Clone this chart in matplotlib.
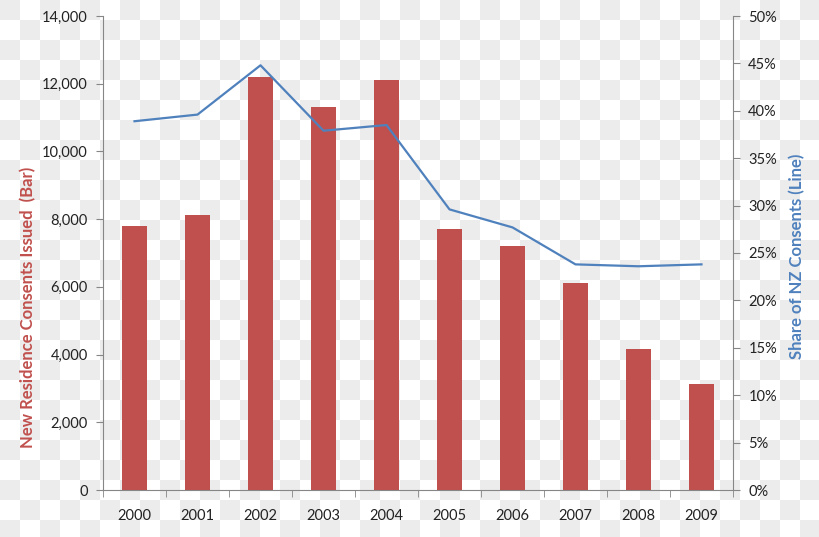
import numpy as np
import matplotlib
matplotlib.use("Agg")
import matplotlib.pyplot as plt
from matplotlib.ticker import FuncFormatter, FixedLocator

years = ["2000", "2001", "2002", "2003", "2004", "2005", "2006", "2007", "2008", "2009"]
consents = [7800, 8120, 12200, 11310, 12100, 7700, 7200, 6100, 4160, 3130]
share_pct = [38.9, 39.6, 44.8, 37.9, 38.5, 29.6, 27.7, 23.8, 23.6, 23.8]

plt.rcParams['font.family'] = ['Lato', 'DejaVu Sans']

W, H = 820, 537
fig = plt.figure(figsize=(W / 100, H / 100), dpi=100)

# checkerboard background
bg = fig.add_axes([0, 0, 1, 1], zorder=-10)
ncol, nrow = 41, 27
ii, jj = np.meshgrid(np.arange(ncol), np.arange(nrow))
board = np.where((ii + jj) % 2 == 0, 0.925, 1.0)
bg.imshow(board, cmap='gray', vmin=0, vmax=1, extent=(0, ncol * 20, nrow * 20, 0),
          interpolation='nearest', aspect='auto')
bg.set_xlim(0, W)
bg.set_ylim(H, 0)
bg.axis('off')

ax = fig.add_axes([103 / W, 1 - 490 / H, 630 / W, 474 / H])
ax.set_facecolor('none')
x = np.arange(len(years))
ax.bar(x, consents, width=0.4, color='#C0504D', zorder=2)
ax.set_xlim(-0.5, len(years) - 0.5)
ax.set_ylim(0, 14000)
ax.set_yticks(np.arange(0, 14001, 2000))
ax.yaxis.set_major_formatter(FuncFormatter(lambda v, p: f"{int(v):,}"))
ax.set_xticks(x)
ax.set_xticklabels(years)
ax.xaxis.set_minor_locator(FixedLocator(np.arange(-0.5, len(years), 1.0)))
ax.tick_params(axis='x', which='major', length=0, pad=14, labelsize=10.5, labelcolor='#222222')
ax.tick_params(axis='x', which='minor', length=5, color='#868686', direction='out')
ax.tick_params(axis='y', length=5, color='#868686', labelsize=10.5, labelcolor='#222222', pad=6)
for s in ['top', 'right']:
    ax.spines[s].set_visible(False)
for s in ['left', 'bottom']:
    ax.spines[s].set_color('#868686')
    ax.spines[s].set_linewidth(0.8)

ax2 = ax.twinx()
ax2.plot(x, share_pct, color='#4F81BD', linewidth=1.6, zorder=3)
ax2.set_ylim(0, 50)
ax2.set_yticks(np.arange(0, 51, 5))
ax2.yaxis.set_major_formatter(FuncFormatter(lambda v, p: f"{int(v)}%"))
ax2.tick_params(axis='y', length=5, color='#868686', labelsize=10.5, labelcolor='#222222', pad=6)
for s in ['top', 'left', 'bottom']:
    ax2.spines[s].set_visible(False)
ax2.spines['right'].set_color('#868686')
ax2.spines['right'].set_linewidth(0.8)

fig.text(28 / W, 1 - 307 / H, "New Residence Consents Issued  (Bar)", color='#C0504D',
         fontsize=12, fontweight='bold', rotation=90, ha='center', va='center')
fig.text(797 / W, 1 - 256 / H, "Share of NZ Consents (Line)", color='#4F81BD',
         fontsize=12, fontweight='bold', rotation=90, ha='center', va='center')

fig.savefig("out.png", dpi=100)
